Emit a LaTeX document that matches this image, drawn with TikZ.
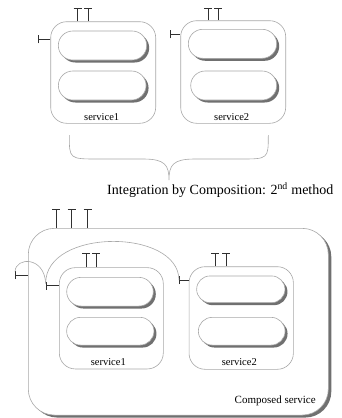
\documentclass[tikz,border=0pt]{standalone}
\usepackage{fontspec}
\setmainfont{Liberation Serif}
\usetikzlibrary{shapes.misc,shadows,arrows.meta}
\definecolor{boxline}{HTML}{A8A8A8}
\definecolor{shade}{HTML}{707070}
\definecolor{portc}{HTML}{303030}
\begin{document}
\begin{tikzpicture}[x=1pt,y=-1pt,
  svcbox/.style={draw=boxline,line width=0.6pt,rounded corners=16pt,fill=white,minimum width=#1,inner sep=0pt},
  pill/.style={rounded rectangle,draw=boxline,line width=0.6pt,fill=white,inner sep=0pt,
     drop shadow={shadow xshift=2.5pt,shadow yshift=-2.5pt,fill=shade,opacity=1}},
  outerbox/.style={draw=boxline,line width=0.6pt,rounded corners=26pt,fill=white,inner sep=0pt,
     drop shadow={shadow xshift=3pt,shadow yshift=-2.5pt,fill=shade,opacity=1}},
  port/.style={draw=portc,line width=0.9pt,-{Bar[width=8pt,line width=0.9pt]}},
  wire/.style={draw=boxline,line width=0.6pt},
  lbl/.style={font=\fontsize{10.5}{12}\selectfont,inner sep=0pt}
]
\useasboundingbox (0,0) rectangle (342,418);

% ---------- top part ----------
\node[svcbox=105pt,minimum height=101.6pt] (t1) at (103.2,72.5) {};
\node[svcbox=105pt,minimum height=102.6pt] (t2) at (233.2,72) {};
\node[pill,minimum width=88.4pt,minimum height=29pt] (t1a) at (102.5,45.5) {};
\node[pill,minimum width=87.7pt,minimum height=29pt] (t1b) at (102.2,85.5) {};
\node[pill,minimum width=88.4pt,minimum height=29pt] (t2a) at (232.5,43.8) {};
\node[pill,minimum width=86pt,minimum height=29pt] (t2b) at (233.7,85.5) {};
\node[lbl] (t1l) at (101.7,116.7) {service1};
\node[lbl] (t2l) at (231.7,116.7) {service2};

\coordinate (t1p1) at (77.5,8.3);
\coordinate (t1p2) at (88.2,8.3);
\coordinate (t1w) at (38.3,39.3);
\coordinate (t2p1) at (208.3,8.3);
\coordinate (t2p2) at (218.3,8.3);
\coordinate (t2w) at (170,34.3);
\draw[port] (t1p1 |- t1.north) -- (t1p1);
\draw[port] (t1p2 |- t1.north) -- (t1p2);
\draw[port] (t1w -| t1.west) -- (t1w);
\draw[port] (t2p1 |- t2.north) -- (t2p1);
\draw[port] (t2p2 |- t2.north) -- (t2p2);
\draw[port] (t2w -| t2.west) -- (t2w);

% brace
\coordinate (bl) at (69.3,135);
\coordinate (br) at (268.3,135);
\coordinate (btip) at (169,180);
\draw[wire] (bl) .. controls (69.3,159) and (69.3,159) .. (98,159) -- (143,159)
  .. controls (165,159) and (169,165) .. (btip)
  .. controls (169,165) and (173,159) .. (195,159) -- (240,159)
  .. controls (268.3,159) and (268.3,159) .. (br);

\node[inner sep=0pt,font=\fontsize{14}{16}\selectfont] (title) at (220.3,190)
  {Integration by Composition: 2\textsuperscript{nd} method};

% ---------- bottom part ----------
\node[outerbox,minimum width=300pt,minimum height=186.7pt] (comp) at (178.3,321.7) {};
\node[font=\fontsize{11}{13}\selectfont,inner sep=0pt] (compl) at (275.2,401) {Composed service};

\coordinate (c1) at (56,209.3);
\coordinate (c2) at (71.7,209.3);
\coordinate (c3) at (87.7,209.3);
\coordinate (cw) at (15,275);
\draw[port] (c1 |- comp.north) -- (c1);
\draw[port] (c2 |- comp.north) -- (c2);
\draw[port] (c3 |- comp.north) -- (c3);
\draw[port] (cw -| comp.west) -- (cw);

\node[svcbox=104pt,minimum height=101.3pt] (b1) at (111.3,318.3) {};
\node[svcbox=104.3pt,minimum height=102.6pt] (b2) at (241.2,318) {};
\node[pill,minimum width=86.6pt,minimum height=28.7pt] (b1a) at (110,291.7) {};
\node[pill,minimum width=87.3pt,minimum height=27.7pt] (b1b) at (110.3,331.2) {};
\node[pill,minimum width=88.3pt,minimum height=26.7pt] (b2a) at (240.8,289.3) {};
\node[pill,minimum width=86.7pt,minimum height=27.7pt] (b2b) at (241.7,331.2) {};
\node[lbl] (b1l) at (108.3,361.7) {service1};
\node[lbl] (b2l) at (239.3,361.7) {service2};

\coordinate (b1p1) at (86,253.3);
\coordinate (b1p2) at (96,253.3);
\coordinate (b1w) at (45.7,285.5);
\coordinate (b2p1) at (215,252.7);
\coordinate (b2p2) at (226,252.7);
\coordinate (b2w) at (179,280);
\draw[port] (b1p1 |- b1.north) -- (b1p1);
\draw[port] (b1p2 |- b1.north) -- (b1p2);
\draw[port] (b1w -| b1.west) -- (b1w);
\draw[port] (b2p1 |- b2.north) -- (b2p1);
\draw[port] (b2p2 |- b2.north) -- (b2p2);
\draw[port] (b2w -| b2.west) -- (b2w);

% connecting arcs
\coordinate (cwa) at (15,271.5);
\coordinate (b1wa) at (45.7,283.5);
\draw[wire] (cwa) .. controls (16,256.5) and (44.5,256.5) .. (b1wa);
\draw[wire] (b1wa) .. controls (45,228) and (178.5,228) .. (b2w);
\end{tikzpicture}
\end{document}
